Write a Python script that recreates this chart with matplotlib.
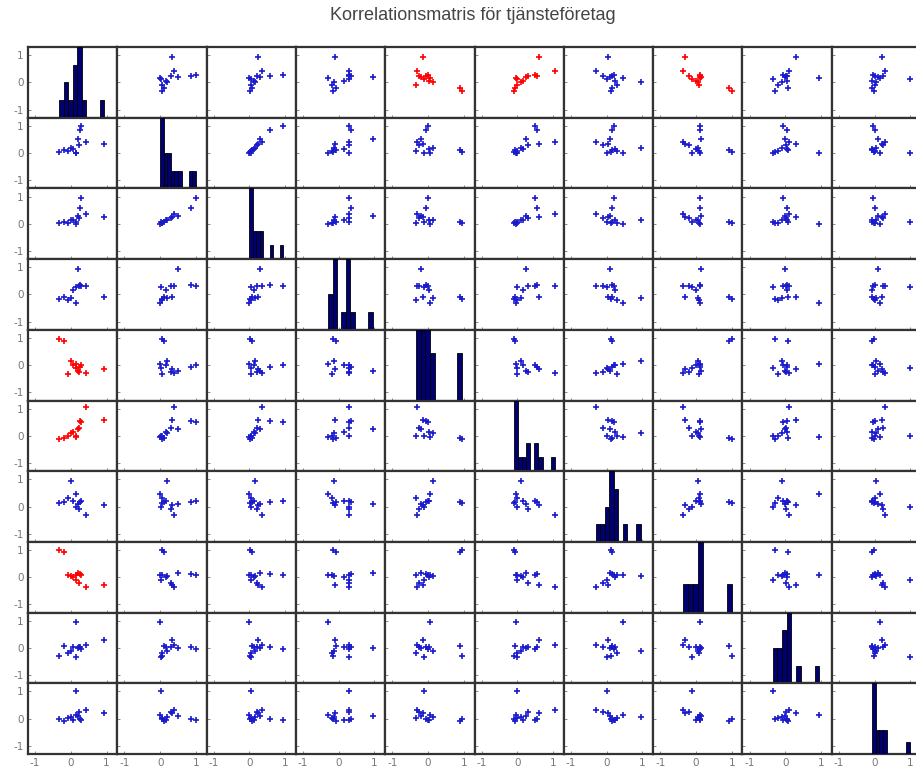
#!/usr/bin/env python3
"""
Scatter plot matrix (plotmatrix style) for ten service-sector variables.
"""
import matplotlib
matplotlib.use("Agg")
import matplotlib.pyplot as plt
import numpy as np

TITLE = "Korrelationsmatris för tjänsteföretag"

# one list per variable, 13 companies each (same order in every list)
var1 = [0.93, 0.28, 0.25, 0.20, -0.33, 0.42, 0.00, 0.15, 0.14, -0.20, 0.22, -0.08, 0.05]
var2 = [0.33, 1.00, 0.85, 0.50, 0.05, 0.40, 0.20, 0.00, 0.02, 0.10, 0.30, 0.06, 0.15]
var3 = [0.25, 0.95, 0.58, 0.30, 0.02, 0.35, 0.15, 0.00, 0.05, 0.08, 0.22, 0.04, 0.12]
var4 = [-0.10, 0.30, 0.35, 0.95, -0.15, 0.30, -0.12, -0.30, 0.28, -0.08, 0.30, -0.20, 0.15]
var5 = [-0.15, 0.00, -0.05, -0.20, 0.95, -0.30, 0.15, 0.06, -0.10, 0.90, -0.25, -0.33, 0.02]
var6 = [0.60, 0.50, 0.55, 0.25, -0.10, 1.05, 0.10, -0.05, 0.00, -0.08, 0.30, -0.02, 0.15]
var7 = [0.05, 0.20, 0.15, 0.10, 0.12, -0.30, 0.95, 0.45, 0.00, 0.15, -0.10, 0.30, 0.22]
var8 = [-0.30, 0.10, 0.12, 0.15, 1.00, -0.35, 0.05, 0.10, -0.10, 0.92, -0.20, 0.08, 0.00]
var9 = [0.30, -0.05, 0.05, 0.00, -0.30, 0.10, -0.10, 0.95, -0.35, 0.08, 0.02, -0.20, 0.05]
var10 = [0.20, -0.05, 0.00, 0.10, -0.02, 0.30, 0.05, 0.15, 1.00, -0.08, 0.25, 0.02, -0.06]

# cells drawn in red (row, col), 1-based
red_cells = [(1, 5), (1, 6), (1, 8), (5, 1), (6, 1), (8, 1)]

tick_vals = [-1, 0, 1]
tick_labels = ["-1", "0", "1"]

data = np.array([var1, var2, var3, var4, var5, var6, var7, var8, var9, var10])
n = data.shape[0]

fig = plt.figure(figsize=(9.16, 7.71), dpi=100)
fig.patch.set_facecolor("white")

left = 28 / 916
top = 1 - 47 / 771
cw = 89.3 / 916
ch = 70.7 / 771

for i in range(n):
    for j in range(n):
        ax = fig.add_axes([left + j * cw, top - (i + 1) * ch, cw, ch])
        ax.set_xlim(-1.2, 1.3)
        ax.set_ylim(-1.3, 1.3)
        ax.set_xticks(tick_vals)
        ax.set_yticks(tick_vals)
        ax.tick_params(direction="in", length=2, width=0.6, colors="#777777",
                       labelsize=7.5, pad=3)
        ax.set_xticklabels(tick_labels if i == n - 1 else [])
        ax.set_yticklabels(tick_labels if j == 0 else [])
        for s in ax.spines.values():
            s.set_linewidth(1.6)
            s.set_color("#333333")

        if i == j:
            counts, edges = np.histogram(data[i], bins=10)
            hx = ax.twinx()
            hx.bar(edges[:-1], counts, width=np.diff(edges), align="edge",
                   color="#000070", edgecolor="black", linewidth=0.6)
            hx.set_ylim(0, counts.max())
            hx.set_yticks([])
            hx.set_xlim(-1.2, 1.3)
            for s in hx.spines.values():
                s.set_visible(False)
        else:
            col = "red" if (i + 1, j + 1) in red_cells else "#1a1acc"
            ax.plot(data[j], data[i], "+", color=col, ms=4.5, mew=1.2)

fig.text(473 / 916, 1 - 16 / 771, TITLE, ha="center", va="center",
         fontsize=13, color="#444444", family="Liberation Sans")

plt.savefig("out.png", dpi=100, facecolor="white")
